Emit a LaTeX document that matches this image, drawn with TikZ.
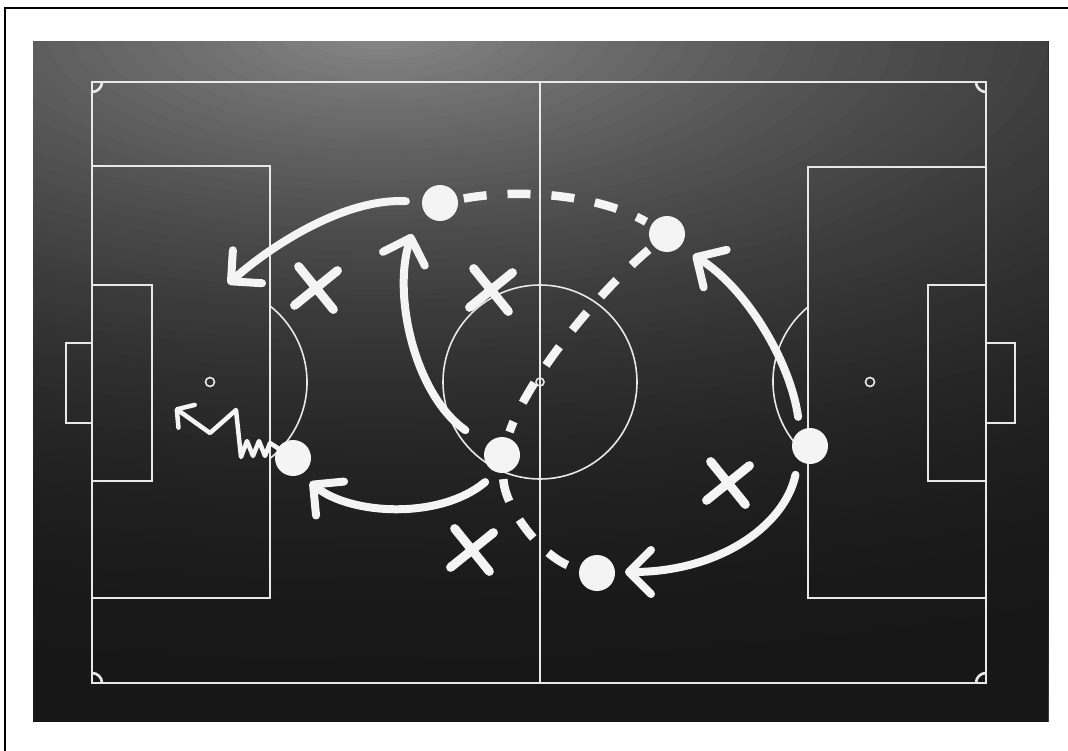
\documentclass[tikz,border=0pt]{standalone}
\usepackage{xcolor}
\usepackage{tikz}
\usetikzlibrary{arrows.meta, shapes.misc}

\definecolor{chalk}{HTML}{F4F4F4}
\definecolor{boardhi}{HTML}{8A8A8A}
\definecolor{boarddk}{HTML}{171717}

\begin{document}
\begin{tikzpicture}[x=1pt, y=-1pt]

  \useasboundingbox (0,0) rectangle (1068,751);
  \fill[white] (0,0) rectangle (1068,751);
  \draw[black, line width=1.2pt] (5,751) -- (5,8) -- (1068,8);

  %% Chalkboard, lit from the top left
  \begin{scope}
    \clip (33,42) rectangle (1048,721);
    \fill[boarddk] (0,0) rectangle (1068,751);
    \foreach \i in {0,...,83}{
      \pgfmathsetmacro{\s}{1.2*(1-\i/84)}
      \pgfmathsetmacro{\p}{100*max(0,1-\s)^2.2}
      \fill[boardhi!\p!boarddk] (380,30) ellipse [x radius=1800*\s, y radius=700*\s];
    }
  \end{scope}

  \tikzset{
    fieldline/.style={draw=chalk!90!gray, line width=2.6pt},
    thinline/.style={draw=chalk!90!gray, line width=1.6pt},
    player/.style={circle, fill=chalk, inner sep=0pt, minimum size=36pt},
    defender/.style={cross out, draw=chalk, line width=9pt, line cap=round,
      inner sep=0pt, minimum size=30pt, rotate=-6},
    passline/.style={draw=chalk, line width=8.5pt, dash pattern=on 23pt off 21pt,
      shorten <=6pt, shorten >=6pt},
    run/.style={draw=chalk, line width=8pt, line cap=round,
      -{Straight Barb[length=22pt, width=44pt, round]}},
    dribble/.style={draw=chalk, line width=4.5pt, line cap=round, line join=round,
      -{Straight Barb[length=12pt, width=28pt, round]}}
  }

  %% Pitch markings
  \draw[fieldline] (92,82) rectangle (986,683);
  \draw[fieldline] (540,82) -- (540,683);
  \draw[thinline] (540,382) circle [radius=97];
  \draw[thinline] (540,382) circle [radius=4];

  %% Left half
  \draw[fieldline] (92,166) rectangle (270,598);
  \draw[fieldline] (92,285) rectangle (152,481);
  \draw[fieldline] (66,343) rectangle (92,423);
  \draw[thinline] (210,382) circle [radius=4.5];
  \draw[thinline] (270,306) arc [start angle=-51.8, end angle=51.8, radius=97];

  %% Right half
  \draw[fieldline] (808,167) rectangle (986,598);
  \draw[fieldline] (928,285) rectangle (986,481);
  \draw[fieldline] (986,343) rectangle (1015,423);
  \draw[thinline] (870,382) circle [radius=4.5];
  \draw[thinline] (808,307) arc [start angle=230.3, end angle=129.7, radius=97];

  %% Corner arcs
  \draw[fieldline] (102,82) arc [start angle=0, end angle=90, radius=10];
  \draw[fieldline] (976,82) arc [start angle=180, end angle=90, radius=10];
  \draw[fieldline] (102,683) arc [start angle=0, end angle=-90, radius=10];
  \draw[fieldline] (976,683) arc [start angle=180, end angle=270, radius=10];

  %% Players and opponents
  \foreach \n/\x/\y in {p1/440/203, p2/667/234, p3/502/455,
                        p4/293/458, p5/810/446, p6/597/573}{
    \node[player] (\n) at (\x,\y) {};
  }
  \foreach \n/\x/\y in {x1/316/288, x2/491/290, x3/472/550, x4/728/483}{
    \node[defender] (\n) at (\x,\y) {};
  }

  %% Arrow tips
  \coordinate (a1tip) at (228,284);
  \coordinate (a2tip) at (412,234);
  \coordinate (a3tip) at (310,482);
  \coordinate (a4tip) at (693,255);
  \coordinate (a5tip) at (625,572);
  \coordinate (ztip) at (175,408);

  %% Passes
  \draw[passline] (p1) .. controls (520,188) and (600,195) .. (p2);
  \draw[passline] (p2) .. controls (590,300) and (525,385) .. (p3);
  \draw[passline] (p3) .. controls (505,510) and (545,560) .. (p6);

  %% Runs
  \draw[run, shorten <=16pt] (p1) .. controls (345,198) and (272,245) .. (a1tip);
  \draw[run, shorten <=26pt] (p3.147) .. controls (415,395) and (392,295) .. (a2tip);
  \draw[run, shorten <=15pt] (p3.253) .. controls (440,520) and (350,515) .. (a3tip);
  \draw[run, shorten <=14pt] (p5.123) .. controls (790,360) and (745,287) .. (a4tip);
  \draw[run, shorten <=15pt] (p5.231) .. controls (785,525) and (720,572) .. (a5tip);

  %% Dribble
  \draw[dribble] (p4) -- (270,443) -- (265,456) -- (259,441) -- (253,456)
    -- (247,441) -- (241,457) -- (236,410) -- (210,433) -- (ztip);

\end{tikzpicture}
\end{document}
